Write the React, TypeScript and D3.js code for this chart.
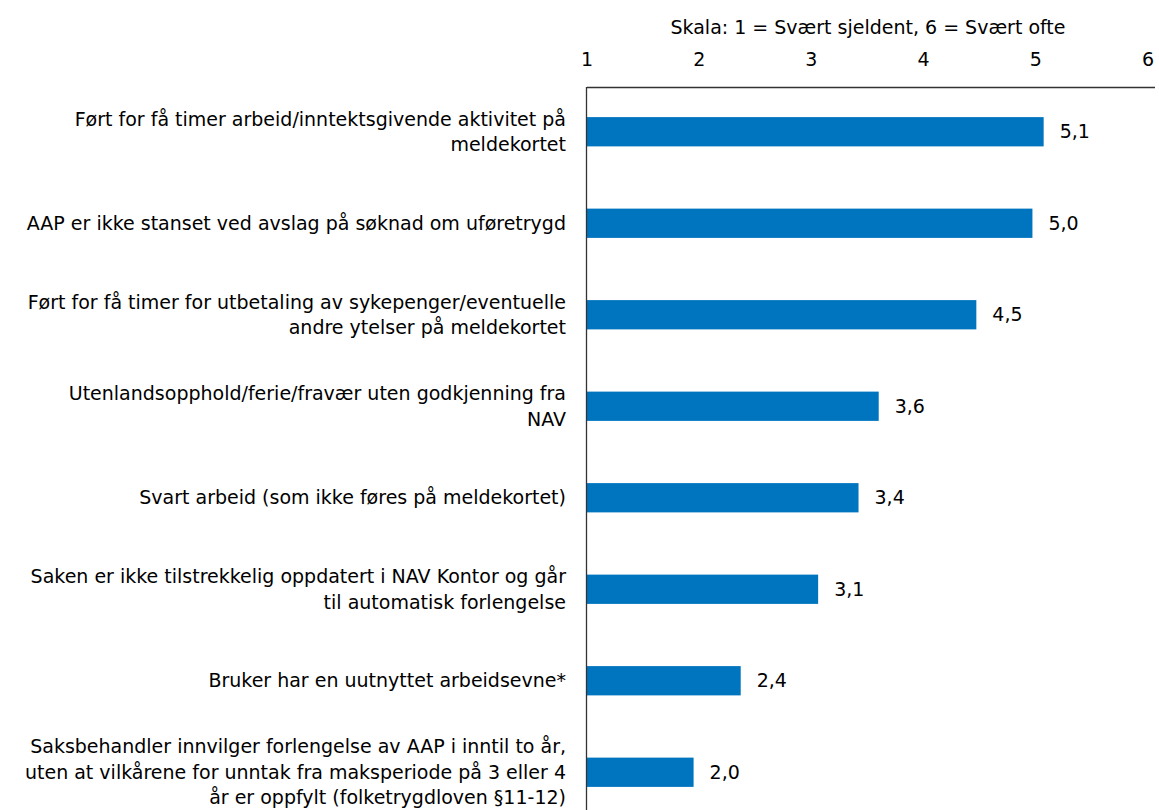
import React from "react";
import * as d3 from "d3";

const categories: string[][] = [
  ["Ført for få timer arbeid/inntektsgivende aktivitet på", "meldekortet"],
  ["AAP er ikke stanset ved avslag på søknad om uføretrygd"],
  ["Ført for få timer for utbetaling av sykepenger/eventuelle", "andre ytelser på meldekortet"],
  ["Utenlandsopphold/ferie/fravær uten godkjenning fra", "NAV"],
  ["Svart arbeid (som ikke føres på meldekortet)"],
  ["Saken er ikke tilstrekkelig oppdatert i NAV Kontor og går", "til automatisk forlengelse"],
  ["Bruker har en uutnyttet arbeidsevne*"],
  [
    "Saksbehandler innvilger forlengelse av AAP i inntil to år,",
    "uten at vilkårene for unntak fra maksperiode på 3 eller 4",
    "år er oppfylt (folketrygdloven §11-12)",
  ],
];
const values: number[] = [5.07, 4.97, 4.47, 3.6, 3.42, 3.06, 2.37, 1.95];
const valueLabels: string[] = ["5,1", "5,0", "4,5", "3,6", "3,4", "3,1", "2,4", "2,0"];
const ticks: number[] = [1, 2, 3, 4, 5, 6];
const axisTitle = "Skala: 1 = Svært sjeldent, 6 = Svært ofte";

const W = 1159;
const H = 810;
const FONT = "'DejaVu Sans', sans-serif";
const FS = 19;

export default function App() {
  const x = d3.scaleLinear().domain([1, 6]).range([587, 1148]);
  const idx = categories.map((_, i) => String(i));
  const y = d3.scaleBand().domain(idx).range([86, 818]).paddingInner(0.68).paddingOuter(0.34);
  const lineH = 25.5;

  return (
    <svg
      width={W}
      height={H}
      style={{ position: "absolute", left: 0, top: 0, background: "#fff" }}
      fontFamily={FONT}
    >
      <text x={868} y={27} dy="0.35em" textAnchor="middle" fontSize={FS} fill="#000">
        {axisTitle}
      </text>
      {ticks.map((t) => (
        <text key={t} x={x(t)} y={59} dy="0.35em" textAnchor="middle" fontSize={FS} fill="#000">
          {t}
        </text>
      ))}
      {values.map((v, i) => {
        const yb = y(String(i))!;
        const bw = y.bandwidth();
        const cy = yb + bw / 2;
        const lines = categories[i];
        return (
          <g key={i}>
            <rect x={x(1)} y={yb} width={x(v) - x(1)} height={bw} fill="#0075BF" />
            <text x={x(v) + 16} y={cy} dy="0.35em" fontSize={FS} fill="#000">
              {valueLabels[i]}
            </text>
            {lines.map((l, j) => (
              <text
                key={j}
                x={566}
                y={cy + (j - (lines.length - 1) / 2) * lineH}
                dy="0.35em"
                textAnchor="end"
                fontSize={FS}
                fill="#000"
              >
                {l}
              </text>
            ))}
          </g>
        );
      })}
      <line x1={x(1)} x2={1155} y1={87.5} y2={87.5} stroke="#333" strokeWidth={1.3} />
      <line x1={586.5} x2={586.5} y1={87} y2={H} stroke="#333" strokeWidth={1.3} />
    </svg>
  );
}
